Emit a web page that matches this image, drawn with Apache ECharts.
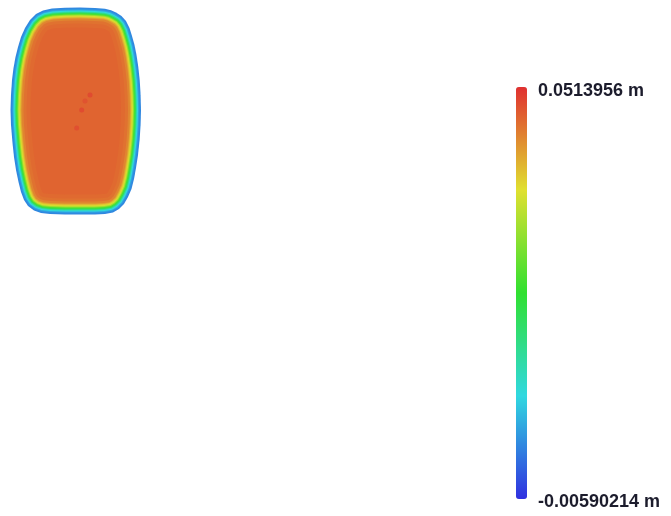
<!DOCTYPE html>
<html><head><meta charset="utf-8">
<script src="https://cdn.jsdelivr.net/npm/echarts@6/dist/echarts.min.js"></script>
<style>html,body{margin:0;padding:0;background:#fff;} #c{width:671px;height:516px;}</style>
</head><body><div id="c"></div>
<script>
// deviation colour scale (m)
const scaleMin = -0.00590214;
const scaleMax = 0.0513956;
const scaleLabels = ['0.0513956 m', '-0.00590214 m'];
const scaleColors = ['#3030e0', '#30d8e0', '#30e030', '#e0e030', '#e03030'];

// outline of the part (mm, centred), clockwise from top
const outlineX = [4.5, 19.5, 29.5, 35.5, 40.5, 46, 50.5, 54, 56.5, 59, 61, 62.8, 64.2, 65.1, 65.5, 65.1, 64.1, 62.5, 60.5, 58.5, 56, 52.5, 48.5, 43.5, 37.5, 29.5, 19.5, 4.5, -10.5, -25.5, -34.5, -41.5, -47.5, -51.5, -54.5, -57, -59.5, -61.5, -63, -64.5, -65, -64.5, -63.5, -62, -60, -57.5, -54.5, -50.5, -45.5, -39.5, -32.5, -23.5, -10.5];
const outlineY = [103.5, 103, 102.3, 100.8, 98.5, 95, 90, 83, 75, 66, 56, 44, 31, 16, 1, -14, -29, -44, -57, -68, -78, -86, -93, -98, -101.5, -103, -103.5, -103.5, -103.5, -103, -102, -99.5, -95, -89, -81, -71, -59, -46, -32, -14, 1, 16, 31, 43, 54, 64, 74, 83, 91, 97, 100.5, 102.5, 103.2];

// deviation profile from the outer edge inward: inset (mm) and value (m)
const profileInset = [0, 1, 2, 3, 4, 5, 6, 7, 8, 9, 10, 11, 13, 16, 20];
const profileValue = [0.0015, 0.002, 0.0045, 0.0085, 0.0135, 0.0195, 0.025, 0.031, 0.036, 0.039, 0.042, 0.0445, 0.046, 0.0467, 0.0472];

// small hot spots in the interior (mm, m)
const spotX = [14.5, 6.2, 1.2, 9.5];
const spotY = [16, 1, -17, 10];
const spotValue = [0.0505, 0.0505, 0.050, 0.0495];

const outline = outlineX.map((x, i) => [x, outlineY[i]]);
const levels = profileInset.map((d, i) => [profileValue[i], d]);
const spots = spotX.map((x, i) => [x, spotY[i], spotValue[i]]);

const chart = echarts.init(document.getElementById('c'), null, {renderer: 'canvas'});

function renderLevel(params, api) {
  const d = api.size([api.value(1), 0])[0];
  const pts = outline.map(p => api.coord(p));
  let cx = 0, cy = 0;
  pts.forEach(p => { cx += p[0]; cy += p[1]; });
  cx /= pts.length; cy /= pts.length;
  const n = pts.length;
  const out = pts.map((p, i) => {
    const a = pts[(i - 1 + n) % n], b = pts[(i + 1) % n];
    let tx = b[0] - a[0], ty = b[1] - a[1];
    const len = Math.hypot(tx, ty) || 1;
    tx /= len; ty /= len;
    let nx = ty, ny = -tx;
    if (nx * (cx - p[0]) + ny * (cy - p[1]) < 0) { nx = -nx; ny = -ny; }
    return [p[0] + nx * d, p[1] + ny * d];
  });
  return {
    type: 'polygon',
    z2: params.dataIndex,
    shape: {points: out},
    style: {fill: api.visual('color'), stroke: null}
  };
}

chart.setOption({
  animation: false,
  backgroundColor: '#ffffff',
  grid: {left: 5.5, top: 1, width: 140, height: 220, show: false},
  xAxis: {type: 'value', min: -70, max: 70, show: false},
  yAxis: {type: 'value', min: -110, max: 110, show: false},
  visualMap: [{
    type: 'continuous',
    min: scaleMin, max: scaleMax,
    seriesIndex: 0, dimension: 0,
    left: 516, top: 87, itemWidth: 11, itemHeight: 412,
    padding: 0, calculable: false, text: null, hoverLink: false,
    inRange: {color: scaleColors}
  }, {
    type: 'continuous', show: false,
    min: scaleMin, max: scaleMax,
    seriesIndex: 1, dimension: 2,
    inRange: {color: scaleColors}
  }],
  graphic: [
    {type: 'text', x: 538, y: 91, style: {text: scaleLabels[0], font: 'bold 18px "Liberation Sans", Arial, sans-serif', fill: '#1c1c2c', verticalAlign: 'middle'}},
    {type: 'text', x: 538, y: 502, style: {text: scaleLabels[1], font: 'bold 18px "Liberation Sans", Arial, sans-serif', fill: '#1c1c2c', verticalAlign: 'middle'}}
  ],
  series: [{
    type: 'custom',
    coordinateSystem: 'cartesian2d',
    renderItem: renderLevel,
    encode: {x: 1, y: 1},
    data: levels,
    silent: true,
    clip: false
  }, {
    type: 'scatter',
    data: spots,
    symbolSize: 5,
    itemStyle: {opacity: 0.6},
    silent: true,
    z: 3
  }]
});
</script></body></html>
